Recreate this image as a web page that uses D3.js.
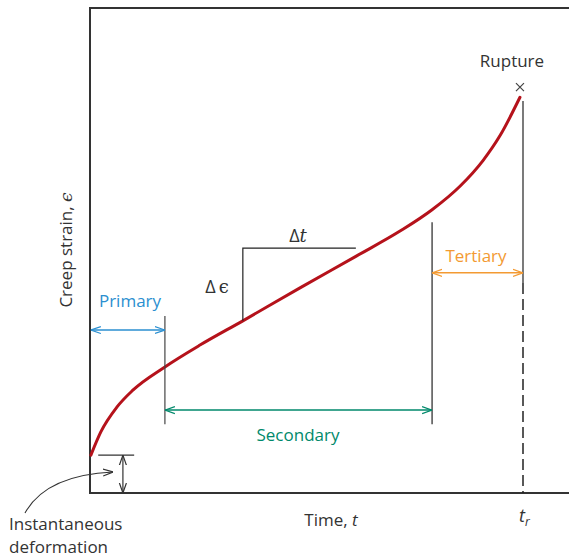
<!DOCTYPE html>
<html><head><meta charset="utf-8">
<script src="https://cdn.jsdelivr.net/npm/d3@7"></script>
<style>
body{margin:0;background:#fff;}
text{font-family:"Open Sans","Noto Sans",sans-serif;}
</style></head>
<body><svg id="c" width="569" height="558"></svg>
<script>
// Creep curve (time in % of rupture time, strain in arbitrary units 0-100)
const curveTime   = [0.2, 2.5, 6.2, 9.9, 17.3, 25.4, 35.3, 48.5, 61.4, 71.6, 79.0, 85.5, 90.8, 94.7, 99.3];
const curveStrain = [7.8, 12.6, 17.7, 21.2, 26.0, 30.5, 35.5, 42.3, 48.8, 54.0, 58.4, 63.3, 68.6, 73.7, 81.6];
const stageBounds = [0, 17.3, 79.0, 100];   // primary | secondary | tertiary | t_r
const stageNames  = ["Primary", "Secondary", "Tertiary"];
const instStrain  = 7.8;
const rupture     = {t: 99.3, e: 83.7, label: "Rupture"};
const slopeTri    = {t0: 35.3, t1: 61.4, e0: 35.5, e1: 50.5};
const axisLabels  = {x: "Time, ", xi: "t", y: "Creep strain, ", yi: "ϵ", tr: "t", trSub: "r"};
const noteLines   = ["Instantaneous", "deformation"];

const svg = d3.select("#c");
const x = d3.scaleLinear().domain([0, 100]).range([90, 523]);
const y = d3.scaleLinear().domain([0, 100]).range([493, 8]);
const xMax = 600;

const dark = "#333", red = "#b5121b", blue = "#2b8fd0", green = "#00896b", orange = "#f39a32";
const FS = 17;

// markers
const defs = svg.append("defs");
function marker(id, col, dir){
  const m = defs.append("marker").attr("id", id).attr("viewBox","0 0 10 10").attr("refX", dir>0?10:0).attr("refY",5)
    .attr("markerWidth",10).attr("markerHeight",10).attr("markerUnits","userSpaceOnUse").attr("orient","auto");
  m.append("path").attr("d", dir>0 ? "M0,1.5 L10,5 L0,8.5" : "M10,1.5 L0,5 L10,8.5")
    .attr("fill","none").attr("stroke",col).attr("stroke-width",1.2);
}
[["b",blue],["g",green],["o",orange],["k",dark]].forEach(([k,c])=>{marker("e"+k,c,1);marker("s"+k,c,-1);});

// frame
svg.append("path").attr("d", `M${xMax},${y(100)} H${x(0)} V${y(0)} H${xMax}`)
  .attr("fill","none").attr("stroke",dark).attr("stroke-width",2);

// curve
const pts = curveTime.map((t,i)=>[t, curveStrain[i]]);
svg.append("path").datum(pts)
  .attr("d", d3.line().x(d=>x(d[0])).y(d=>y(d[1])).curve(d3.curveMonotoneX))
  .attr("fill","none").attr("stroke",red).attr("stroke-width",3).attr("stroke-linecap","round");

// rupture marker
const rx = x(rupture.t), ry = y(rupture.e);
svg.append("path").attr("d", `M${rx-4},${ry-4}L${rx+4},${ry+4}M${rx-4},${ry+4}L${rx+4},${ry-4}`)
  .attr("stroke","#444").attr("stroke-width",1.2);
svg.append("text").attr("x", rx-8).attr("y", ry-20).attr("text-anchor","middle")
  .attr("font-size",FS).attr("fill","#333").text(rupture.label);

// t_r vertical line
const xr = x(stageBounds[3]);
svg.append("line").attr("x1",xr).attr("x2",xr).attr("y1",y(80.8)).attr("y2",y(43.3))
  .attr("stroke","#222").attr("stroke-width",1.2);
svg.append("line").attr("x1",xr).attr("x2",xr).attr("y1",y(43.3)).attr("y2",y(0))
  .attr("stroke","#222").attr("stroke-width",1.5).attr("stroke-dasharray","11,5");

// stage boundary lines
const x1 = x(stageBounds[1]), x2 = x(stageBounds[2]);
svg.append("line").attr("x1",x1).attr("x2",x1).attr("y1",y(36.5)).attr("y2",y(14.2)).attr("stroke","#444").attr("stroke-width",1.2);
svg.append("line").attr("x1",x2).attr("x2",x2).attr("y1",y(55.8)).attr("y2",y(14.2)).attr("stroke","#222").attr("stroke-width",1.2);

// stage arrows
function arrow(t0,t1,e,col,k){
  svg.append("line").attr("x1",x(t0)).attr("x2",x(t1)).attr("y1",y(e)).attr("y2",y(e))
    .attr("stroke",col).attr("stroke-width",1.5)
    .attr("marker-start","url(#s"+k+")").attr("marker-end","url(#e"+k+")");
}
arrow(stageBounds[0]+0.2, stageBounds[1], 33.6, blue, "b");
arrow(stageBounds[1], stageBounds[2], 17.1, green, "g");
arrow(stageBounds[2], stageBounds[3], 45.4, orange, "o");
svg.append("text").attr("x", 130).attr("y", 307).attr("text-anchor","middle").attr("font-size",FS).attr("fill",blue).text(stageNames[0]);
svg.append("text").attr("x", 298).attr("y", 441).attr("text-anchor","middle").attr("font-size",FS).attr("fill",green).text(stageNames[1]);
svg.append("text").attr("x", 476).attr("y", 262).attr("text-anchor","middle").attr("font-size",FS).attr("fill",orange).text(stageNames[2]);

// slope triangle
svg.append("path").attr("d", `M${x(slopeTri.t0)},${y(slopeTri.e0)} V${y(slopeTri.e1)} H${x(slopeTri.t1)}`)
  .attr("fill","none").attr("stroke","#222").attr("stroke-width",1.2);
const dt = svg.append("text").attr("x", 298).attr("y", 242).attr("text-anchor","middle").attr("font-size",18).attr("fill","#333");
dt.append("tspan").text("Δ"); dt.append("tspan").attr("font-style","italic").attr("font-family","DejaVu Serif, serif").text("t");
const de = svg.append("text").attr("x", 217).attr("y", 293).attr("text-anchor","middle").attr("font-size",18).attr("fill","#333");
de.append("tspan").text("Δ"); de.append("tspan").attr("dx",3).attr("font-family","DejaVu Serif, serif").text("ϵ");

// instantaneous deformation
svg.append("line").attr("x1",x(1.9)).attr("x2",x(10.2)).attr("y1",y(instStrain)).attr("y2",y(instStrain)).attr("stroke","#333").attr("stroke-width",1.2);
svg.append("line").attr("x1",x(7.6)).attr("x2",x(7.6)).attr("y1",y(instStrain)).attr("y2",y(0))
  .attr("stroke","#333").attr("stroke-width",1.2).attr("marker-start","url(#sk)").attr("marker-end","url(#ek)");
svg.append("path").attr("d","M25,513 C40,486 70,474 113,472")
  .attr("fill","none").attr("stroke","#333").attr("stroke-width",1.1).attr("marker-end","url(#ek)");
svg.selectAll("text.note").data(noteLines).join("text").attr("class","note")
  .attr("x",9).attr("y",(d,i)=>530+i*23).attr("font-size",FS).attr("fill","#333").text(d=>d);

// axis labels
const xl = svg.append("text").attr("x",331).attr("y",526).attr("text-anchor","middle").attr("font-size",FS).attr("fill","#333");
xl.append("tspan").text(axisLabels.x); xl.append("tspan").attr("font-style","italic").text(axisLabels.xi);
const yl = svg.append("text").attr("transform","translate(72,250) rotate(-90)").attr("text-anchor","middle").attr("font-size",FS).attr("fill","#333");
yl.append("tspan").text(axisLabels.y); yl.append("tspan").attr("font-family","DejaVu Serif, serif").attr("font-style","italic").text(axisLabels.yi);
const tr = svg.append("text").attr("x",xr-4).attr("y",522).attr("font-size",18).attr("fill","#333").attr("font-style","italic");
tr.append("tspan").text(axisLabels.tr); tr.append("tspan").attr("dy",4).attr("font-size",12).text(axisLabels.trSub);
</script></body></html>
